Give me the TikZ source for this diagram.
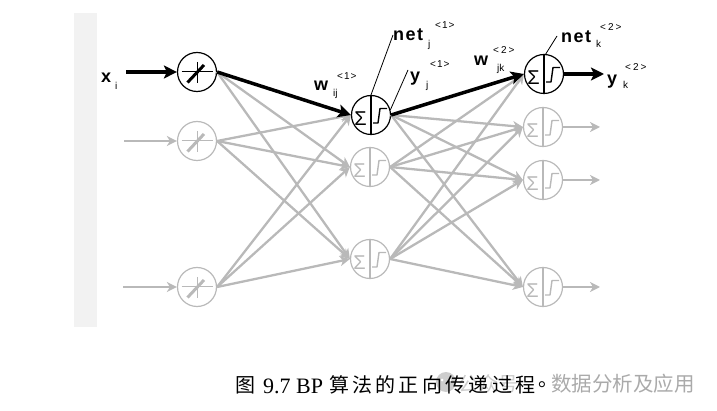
\documentclass[tikz,border=0pt]{standalone}
\usepackage{fontspec}
\setmainfont{Liberation Serif}
\newfontfamily\lab{Liberation Sans}
\newfontfamily\cjk{Noto Sans CJK SC}
\usetikzlibrary{arrows.meta,calc}
\definecolor{lg}{RGB}{185,185,185}
\definecolor{bandc}{RGB}{242,242,242}
\definecolor{wm}{RGB}{170,170,170}
\definecolor{wmlight}{RGB}{205,205,205}

\newcommand\insym[2]{%
  \begin{scope}[shift={(#1.center)}]
    \draw[#2,line width=1pt] (-15.5,0) -- (15.5,0) (0,-10) -- (0,11);
    \draw[#2,line width=3pt] (-9.5,10.5) -- (7,-7);
  \end{scope}}
\newcommand\hidsym[2]{%
  \draw[#2,line width=1.2pt] (#1.north) -- (#1.south);
  \begin{scope}[shift={(#1.center)}]
    \node[text=#2,font=\lab\fontsize{20}{20}\selectfont,inner sep=0pt] at (-10.5,3.5) {Σ};
    \draw[#2,line width=1.4pt,line join=round] (2,8) -- (7,8) -- (9,-6.5) -- (16,-6.5);
  \end{scope}}

\begin{document}
\begin{tikzpicture}[x=1pt,y=-1pt,
  neuron/.style={circle,draw,line width=1.2pt,minimum size=39pt,inner sep=0pt},
  gedge/.style={draw=lg,line width=2.3pt,-{Stealth[length=10pt,width=10pt,inset=3pt]}},
  bedge/.style={draw=black,line width=3.5pt,-{Stealth[length=13pt,width=13pt,inset=3pt]}},
  big/.style={font=\lab\bfseries\fontsize{18}{18}\selectfont,inner sep=0pt,anchor=base west},
  sml/.style={font=\lab\fontsize{10}{10}\selectfont,inner sep=0pt,anchor=base west},
  lead/.style={line width=0.8pt},
  captext/.style={font=\cjk\fontsize{20}{20}\selectfont,inner sep=0pt}]

\useasboundingbox (0,0) rectangle (717,411);
\fill[bandc] (74,13) rectangle (97,327);

% neurons
\node[neuron,draw=black] (i1) at (197,72) {};
\node[neuron,draw=lg] (i2) at (197,141) {};
\node[neuron,draw=lg] (i3) at (197,287) {};
\node[neuron,draw=black] (h1) at (371,115) {};
\node[neuron,draw=lg] (h2) at (370,167) {};
\node[neuron,draw=lg] (h3) at (370,259) {};
\node[neuron,draw=black] (o1) at (544,74) {};
\node[neuron,draw=lg] (o2) at (543,127) {};
\node[neuron,draw=lg] (o3) at (543,180) {};
\node[neuron,draw=lg] (o4) at (543,287) {};

\insym{i1}{black}\insym{i2}{lg}\insym{i3}{lg}
\hidsym{h1}{black}\hidsym{h2}{lg}\hidsym{h3}{lg}
\hidsym{o1}{black}\hidsym{o2}{lg}\hidsym{o3}{lg}\hidsym{o4}{lg}

% input and output free ends
\coordinate (a1) at (126,72);
\coordinate (a2) at (124,141);
\coordinate (a3) at (123,287);
\coordinate (e1) at (604,74);
\coordinate (e2) at (600,127);
\coordinate (e3) at (600,180);
\coordinate (e4) at (600,287);

% gray connections
\foreach \a/\b in {i1/h2,i1/h3,i2/h1,i2/h2,i2/h3,i3/h1,i3/h2,i3/h3}
  \draw[gedge] (\a.east) -- (\b.west);
\foreach \a/\b in {h1/o2,h1/o3,h1/o4,h2/o1,h2/o2,h2/o3,h2/o4,h3/o1,h3/o2,h3/o3,h3/o4}
  \draw[gedge] (\a.east) -- (\b.west);
\draw[gedge] (a2) -- (i2.west);
\draw[gedge] (a3) -- (i3.west);
\draw[gedge] (o2.east) -- (e2);
\draw[gedge] (o3.east) -- (e3);
\draw[gedge] (o4.east) -- (e4);

% black path
\draw[bedge] (a1) -- (i1.west);
\draw[bedge] (i1.east) -- (h1.west);
\draw[bedge] (h1.east) -- (o1.west);
\draw[bedge] (o1.east) -- (e1);

% labels
\node[big] (xl) at (101,83) {x};
\node[sml] (xs) at (115,90) {i};

\node[big] (wl) at (314,91) {w};
\node[sml] (ws) at (333,97) {ij};
\node[sml] (wp) at (337,80) {<\kern1pt1\kern1pt>};

\node[big] (nl) at (393,41) {n\kern1.5pt e\kern1.5pt t};
\node[sml] (ns) at (428,48) {j};
\node[sml] (np) at (435,28.5) {<\kern1pt1\kern1pt>};
\coordinate (nj) at (393,35);
\draw[lead] (h1.north) -- (nj);

\node[big] (yl) at (410,82) {y};
\node[sml] (ys) at (426,89) {j};
\node[sml] (yp) at (430,67.5) {<\kern1pt1\kern1pt>};
\coordinate (yj) at (408,70);
\draw[lead] (h1.15) -- (yj);

\node[big] (w2l) at (474,66) {w};
\node[sml] (w2s) at (497,72) {jk};
\node[sml] (w2p) at (493,53.5) {<\kern2pt2\kern2pt>};

\node[big] (n2l) at (561,43) {n\kern1.5pt e\kern1.5pt t};
\node[sml] (n2s) at (596,48) {k};
\node[sml] (n2p) at (600,30.5) {<\kern2pt2\kern2pt>};
\coordinate (nk) at (557,36);
\draw[lead] (o1.85) -- (nk);

\node[big] (y2l) at (607,85) {y};
\node[sml] (y2s) at (623,89) {k};
\node[sml] (y2p) at (625,70.5) {<\kern2pt2\kern2pt>};

% watermark
\fill[wmlight] (446,382) circle (10);
\fill[white] (442,380) circle (1.5) (450,380) circle (1.5);
\node[captext,text=wmlight,anchor=west] (wm1) at (458,384) {公众号};
\node[font=\cjk\fontsize{20.5}{20.5}\selectfont,inner sep=0pt,text=wm,anchor=west] (wm2) at (551,384) {数据分析及应用};

% caption
\node[captext] (c0) at (245,385) {图};
\node[font=\fontsize{22}{22}\selectfont,inner sep=0pt,anchor=base west] (c1) at (263,393) {9.7 BP};
\foreach \c [count=\i] in {算,法,的,正,向,传,递,过,程,。}
  \node[captext] (cc\i) at (315.7+23.3*\i,385) {\c};
\end{tikzpicture}
\end{document}
